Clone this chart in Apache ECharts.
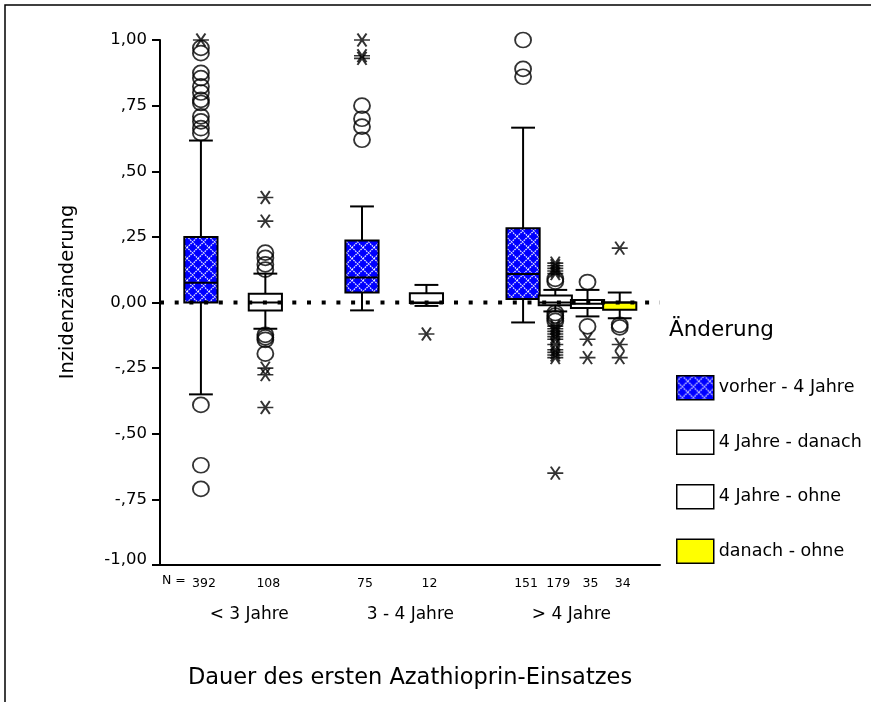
<!DOCTYPE html>
<html><head><meta charset="utf-8">
<script src="https://cdn.jsdelivr.net/npm/echarts@6/dist/echarts.min.js"></script>
<style>html,body{margin:0;padding:0;background:#fff}#c{width:871px;height:702px}</style>
</head><body><div id="c"></div>
<script>
// ---------------- data ----------------
const groupNames = ['< 3 Jahre', '3 - 4 Jahre', '> 4 Jahre'];
const groupCenters = [2.5, 7.5, 12.5];           // cluster centre slots
const seriesNames = ['vorher - 4 Jahre', '4 Jahre - danach', '4 Jahre - ohne', 'danach - ohne'];
const boxSlots = [1, 3, 6, 8, 11, 12, 13, 14];   // slot of each box
const boxSeries = [0, 1, 0, 1, 0, 1, 2, 3];      // Änderung category of each box
const nValues = [392, 108, 75, 12, 151, 179, 35, 34];
// [lower whisker, Q1, median, Q3, upper whisker]
const boxStats = [
  [-0.35, 0.0, 0.075, 0.25, 0.617],
  [-0.10, -0.03, 0.0, 0.033, 0.11],
  [-0.03, 0.038, 0.095, 0.236, 0.366],
  [-0.013, -0.002, 0.0, 0.035, 0.067],
  [-0.076, 0.013, 0.109, 0.283, 0.666],
  [-0.034, -0.01, 0.0, 0.027, 0.048],
  [-0.053, -0.021, -0.005, 0.01, 0.048],
  [-0.06, -0.028, 0.0, 0.0, 0.038]
];
// outliers (circles) per box
const outlierValues = [
  [0.97, 0.95, 0.875, 0.855, 0.823, 0.80, 0.772, 0.76, 0.709, 0.69, 0.664, 0.645, -0.39, -0.62, -0.71],
  [0.19, 0.17, 0.145, 0.125, -0.123, -0.133, -0.142, -0.195],
  [0.75, 0.70, 0.67, 0.62],
  [],
  [1.0, 0.89, 0.86],
  [0.09, 0.08, -0.04, -0.05, -0.06, -0.07],
  [0.078, -0.091],
  [-0.085, -0.095]
];
// extreme values (asterisks) per box
const extremeValues = [
  [1.0],
  [0.40, 0.31, -0.25, -0.275, -0.40],
  [1.0, 0.94, 0.93],
  [-0.12],
  [],
  [0.15, 0.14, 0.13, 0.12, 0.11, -0.09, -0.10, -0.11, -0.12, -0.13, -0.14, -0.16, -0.18, -0.19, -0.20, -0.21, -0.65],
  [-0.14, -0.21],
  [0.207, -0.16, -0.21]
];
const yTickLabels = ['-1,00', '-,75', '-,50', '-,25', '0,00', ',25', ',50', ',75', '1,00'];

// ---------------- styling ----------------
const FONT = 'DejaVu Sans';
function makeHatch() {
  const c = document.createElement('canvas');
  c.width = 11; c.height = 11;
  const g = c.getContext('2d');
  g.fillStyle = '#0000ff'; g.fillRect(0, 0, 11, 11);
  g.strokeStyle = 'rgba(255,255,255,0.95)'; g.lineWidth = 1.2;
  g.setLineDash([1.6, 0.9]);
  g.beginPath();
  g.moveTo(0, 5.5); g.lineTo(5.5, 0); g.lineTo(11, 5.5); g.lineTo(5.5, 11); g.closePath();
  g.stroke();
  return c;
}
const hatch = { image: makeHatch(), repeat: 'repeat' };
const fills = [hatch, '#ffffff', '#ffffff', '#ffff00'];

function renderBox(api, fill) {
  const x = api.value(0);
  const pLo = api.coord([x, api.value(1)]);
  const pQ1 = api.coord([x, api.value(2)]);
  const pMed = api.coord([x, api.value(3)]);
  const pQ3 = api.coord([x, api.value(4)]);
  const pHi = api.coord([x, api.value(5)]);
  const unit = api.size([1, 0])[0];
  const bw = unit * 1.03, cw = unit * 0.74, cx = pLo[0];
  const ls = { stroke: '#000', lineWidth: 2 };
  return { type: 'group', children: [
    { type: 'line', shape: { x1: cx, y1: pHi[1], x2: cx, y2: pQ3[1] }, style: ls },
    { type: 'line', shape: { x1: cx, y1: pQ1[1], x2: cx, y2: pLo[1] }, style: ls },
    { type: 'line', shape: { x1: cx - cw / 2, y1: pHi[1], x2: cx + cw / 2, y2: pHi[1] }, style: ls },
    { type: 'line', shape: { x1: cx - cw / 2, y1: pLo[1], x2: cx + cw / 2, y2: pLo[1] }, style: ls },
    { type: 'rect', shape: { x: cx - bw / 2, y: pQ3[1], width: bw, height: Math.max(pQ1[1] - pQ3[1], 1) },
      style: { fill: fill, stroke: '#000', lineWidth: 2 } },
    { type: 'line', shape: { x1: cx - bw / 2, y1: pMed[1], x2: cx + bw / 2, y2: pMed[1] }, style: ls }
  ]};
}

const boxSeriesList = seriesNames.map((name, s) => ({
  type: 'custom', name: name, silent: true, z: 2,
  itemStyle: { color: fills[s], borderColor: '#000', borderWidth: 2 },
  encode: { x: 0, y: [1, 2, 3, 4, 5] },
  data: boxSlots.map((x, i) => ({ x, i })).filter(b => boxSeries[b.i] === s)
    .map(b => [b.x].concat(boxStats[b.i])),
  renderItem: (params, api) => renderBox(api, fills[s])
}));

const circlePts = [], starPts = [];
boxSlots.forEach((x, i) => {
  outlierValues[i].forEach(v => circlePts.push([x, v]));
  extremeValues[i].forEach(v => starPts.push([x, v]));
});

const chart = echarts.init(document.getElementById('c'));
chart.setOption({
  animation: false,
  backgroundColor: '#fff',
  grid: { left: 160, top: 40, width: 500, height: 525 },
  xAxis: {
    type: 'value', min: -0.27, max: 15.25,
    axisLine: { show: true, onZero: false, lineStyle: { color: '#000', width: 2 } },
    axisTick: { show: false }, axisLabel: { show: false }, splitLine: { show: false },
    name: 'Dauer des ersten Azathioprin-Einsatzes', nameLocation: 'middle', nameGap: 102,
    nameTextStyle: { fontFamily: FONT, fontSize: 22.5, color: '#000' }
  },
  yAxis: {
    type: 'value', min: -1, max: 1, interval: 0.25,
    axisLine: { show: true, onZero: false, lineStyle: { color: '#000', width: 2 } },
    axisTick: { show: true, length: 8, lineStyle: { color: '#000', width: 2 } },
    splitLine: { show: false },
    axisLabel: {
      margin: 13, color: '#000', fontFamily: FONT, fontSize: 16.5,
      formatter: v => {
        const lab = yTickLabels[Math.round((v + 1) / 0.25)];
        return v <= -1 ? '{low|' + lab + '}' : lab;
      },
      rich: { low: { fontFamily: FONT, fontSize: 16.5, color: '#000', padding: [0, 0, 10, 0] } }
    }
  },
  legend: {
    orient: 'vertical', left: 676, top: 375, padding: 0, itemWidth: 37, itemHeight: 24, itemGap: 29,
    icon: 'rect', selectedMode: false,
    textStyle: { fontFamily: FONT, fontSize: 17.5, color: '#000' },
    data: seriesNames.map((n, s) => ({ name: n, itemStyle: { color: fills[s], borderColor: '#000', borderWidth: 1.5 } }))
  },
  graphic: [
    { type: 'rect', shape: { x: 5, y: 5, width: 900, height: 800 }, style: { fill: 'none', stroke: '#000', lineWidth: 1.5 }, silent: true },
    { type: 'text', x: 669, y: 330, style: { text: 'Änderung', font: '21.5px "' + FONT + '"', fill: '#000', align: 'left', verticalAlign: 'middle' } },
    { type: 'text', x: 68, y: 292, rotation: Math.PI / 2, style: { text: 'Inzidenzänderung', font: '19.5px "' + FONT + '"', fill: '#000', align: 'center', verticalAlign: 'middle' } },
    { type: 'text', x: 162, y: 581, style: { text: 'N =', font: '12.5px "' + FONT + '"', fill: '#000', align: 'left', verticalAlign: 'middle' } }
  ],
  series: boxSeriesList.concat([
    { type: 'scatter', name: 'Ausreißer', data: circlePts, symbol: 'circle', symbolSize: [16, 15], silent: true, z: 3,
      itemStyle: { color: 'rgba(0,0,0,0)', borderColor: '#000', borderWidth: 1.8 } },
    { type: 'scatter', name: 'Extremwerte', data: starPts, symbol: 'path://M0,6.5L16,6.5M3.5,0L12.5,13M12.5,0L3.5,13', symbolSize: [16, 13], silent: true, z: 3,
      itemStyle: { color: 'none', borderColor: '#000', borderWidth: 1.8 } },
    { type: 'line', name: 'Null', data: [[-0.27, 0], [15.25, 0]], symbol: 'none', silent: true, z: 5,
      lineStyle: { color: '#000', width: 4, type: [4, 10.7], cap: 'butt' } },
    { type: 'custom', name: 'N', silent: true, z: 4, clip: false,
      data: boxSlots.map((x, i) => [x, nValues[i]]),
      renderItem: (params, api) => {
        const p = api.coord([api.value(0), -1]);
        return { type: 'text', x: p[0] + 3, y: p[1] + 19, style: { text: String(api.value(1)), font: '12.5px "' + FONT + '"', fill: '#000', align: 'center', verticalAlign: 'middle' } };
      } },
    { type: 'custom', name: 'Gruppen', silent: true, z: 4, clip: false,
      data: groupCenters.map((x, i) => [x, i]),
      renderItem: (params, api) => {
        const p = api.coord([api.value(0), -1]);
        return { type: 'text', x: p[0], y: p[1] + 50, style: { text: groupNames[params.dataIndex], font: '17px "' + FONT + '"', fill: '#000', align: 'center', verticalAlign: 'middle' } };
      } }
  ])
});
</script></body></html>
